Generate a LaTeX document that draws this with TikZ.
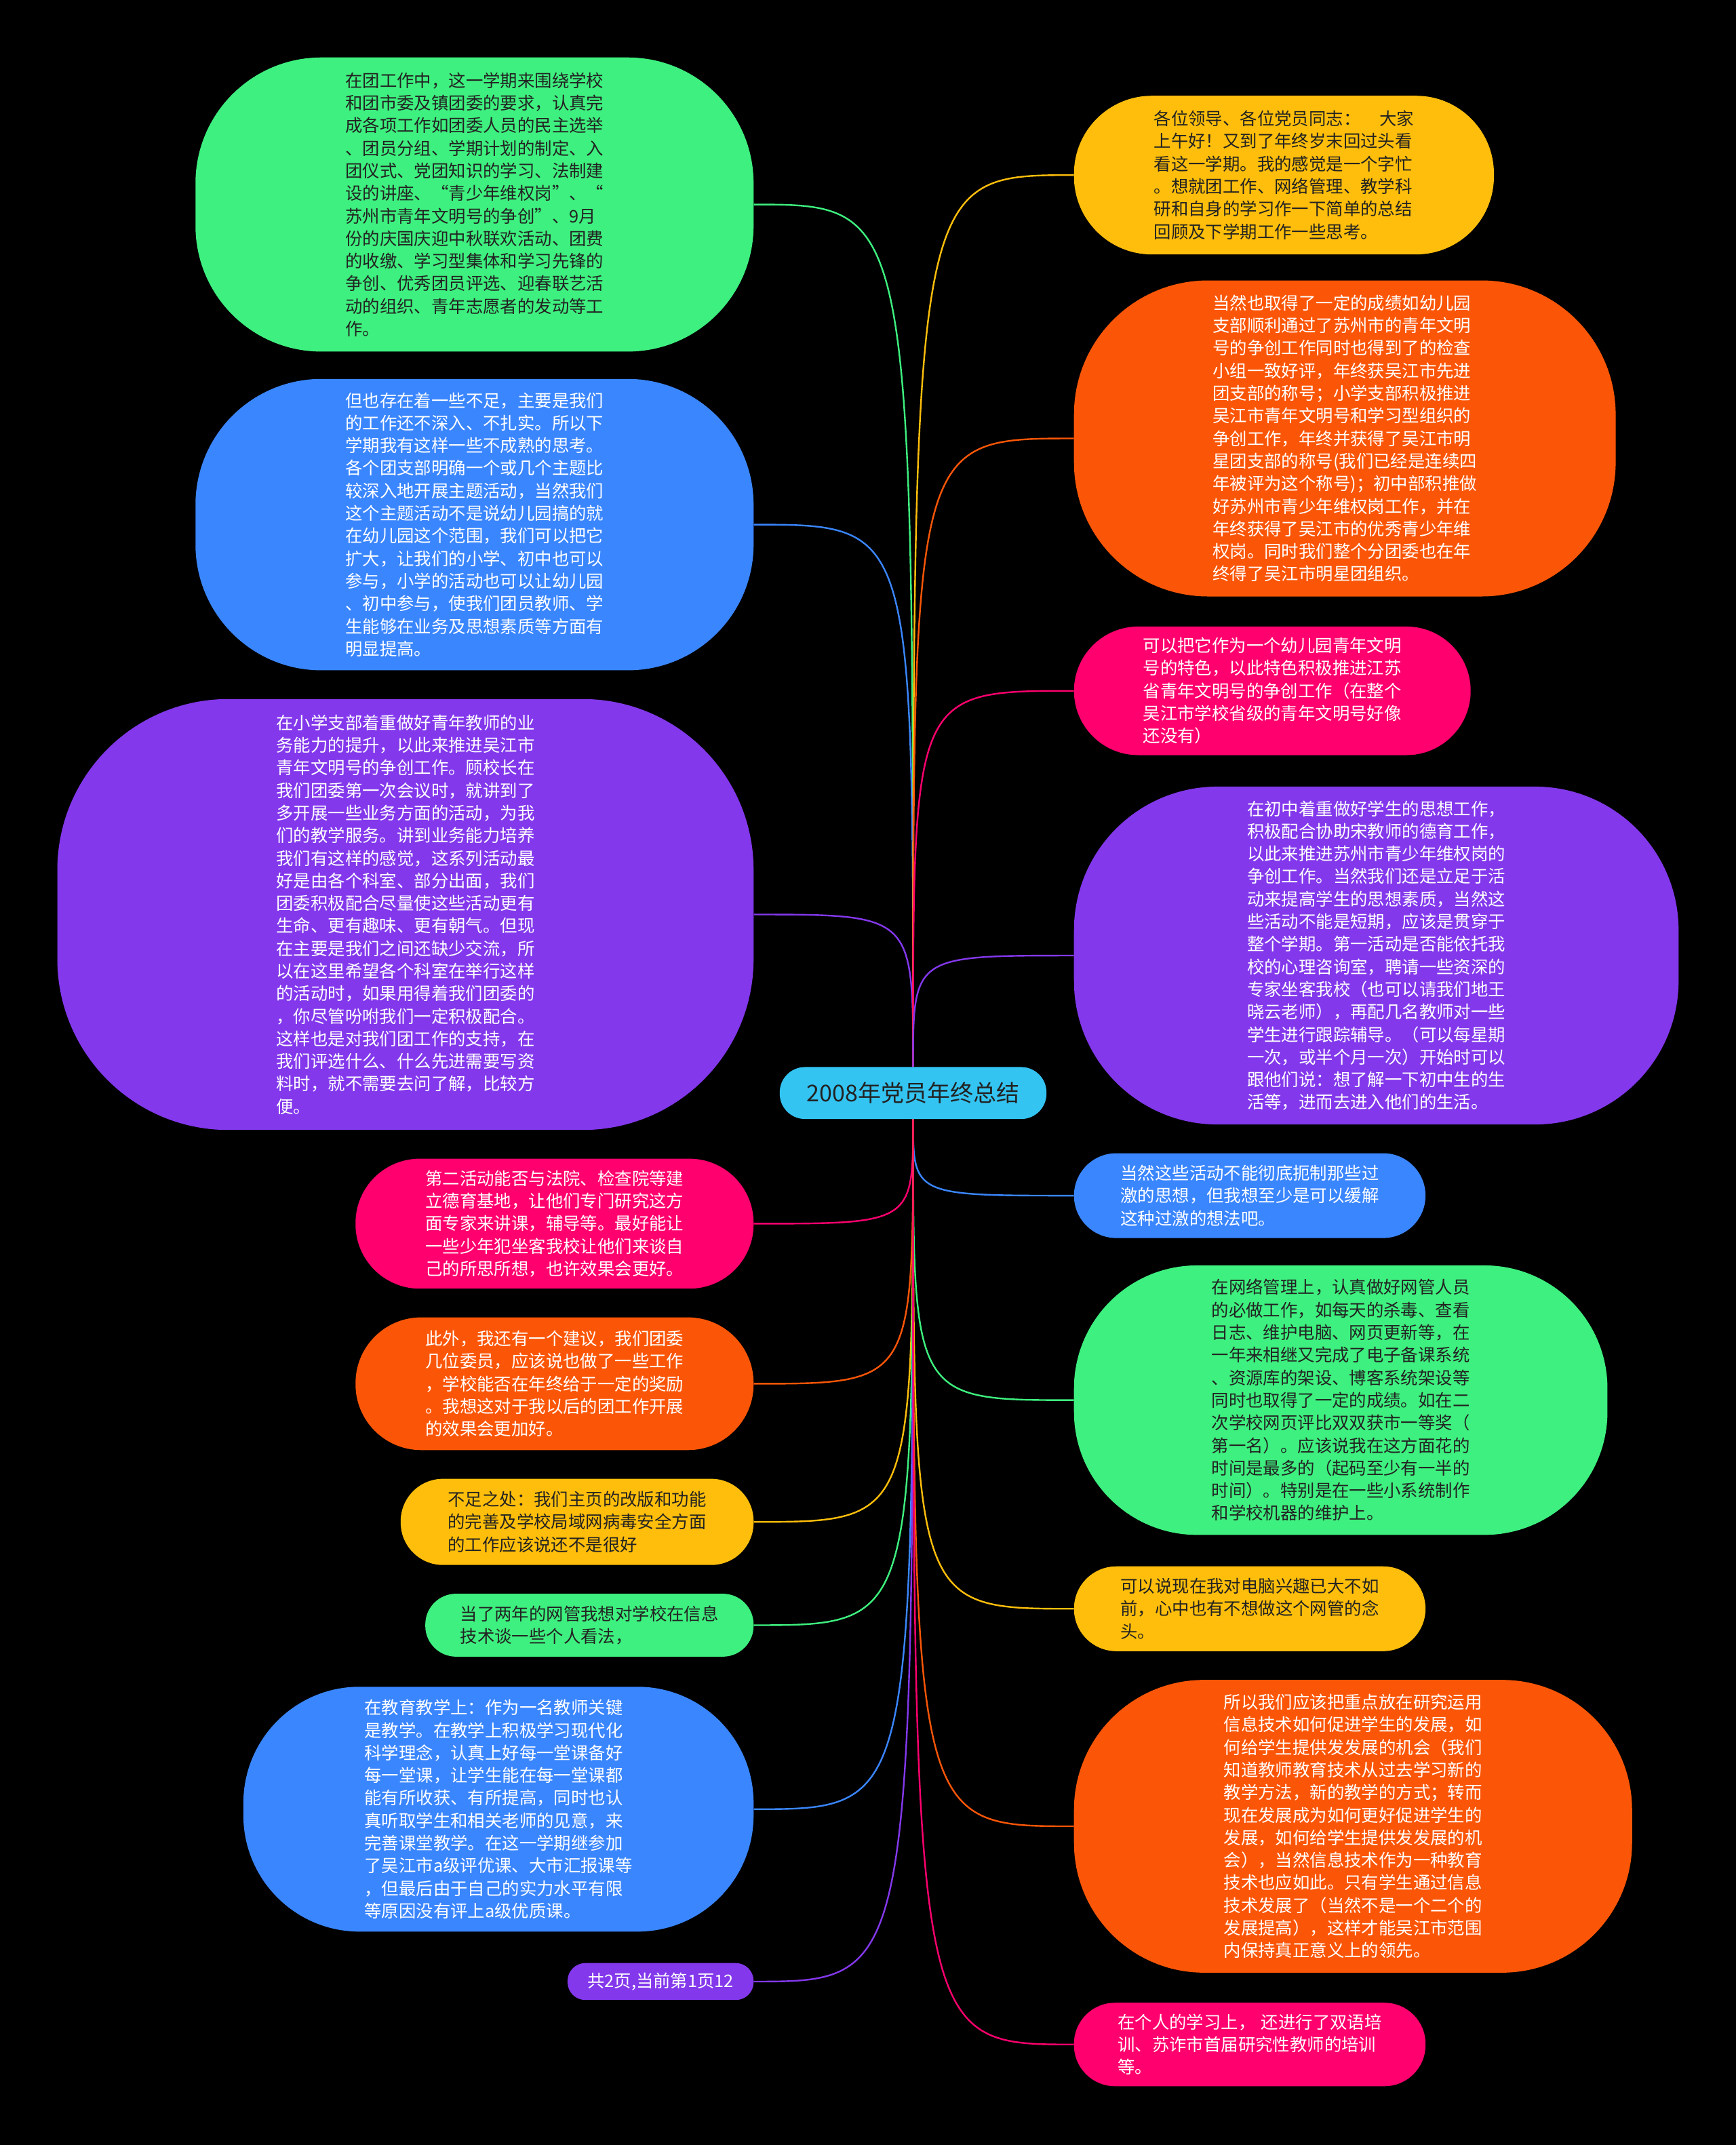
\documentclass[tikz,border=0pt]{standalone}
\usepackage{fontspec}
\setmainfont{Noto Sans CJK SC}
\usetikzlibrary{backgrounds}
\definecolor{cgreen}{HTML}{3EF07F}
\definecolor{cblue}{HTML}{3A86FF}
\definecolor{cpurple}{HTML}{8338EC}
\definecolor{cpink}{HTML}{FF006E}
\definecolor{corange}{HTML}{FB5607}
\definecolor{cyellow}{HTML}{FFBE0B}
\definecolor{ccyan}{HTML}{33C4F2}
\definecolor{cdark}{HTML}{222222}
\newdimen\U \U=2.0173pt
\newcommand\nodefnt{\fontsize{25.4pt}{33.3pt}\selectfont}
\newcommand\rootfnt{\fontsize{34pt}{40pt}\selectfont}
\tikzset{
  bx/.style={inner sep=0pt, align=left, font=\nodefnt},
  lbx/.style={bx, anchor=east},
  rbx/.style={bx, anchor=west},
  onwhite/.style={text=white},
  ondark/.style={text=cdark},
  conn/.style={line width=2.4pt}
}
\begin{document}
\begin{tikzpicture}[x=2.0173pt,y=-2.0173pt]
\useasboundingbox (0,0) rectangle (1269,1568);

% root
\node[inner sep=0pt, font=\rootfnt, text=cdark, fill=ccyan, minimum width=195\U, minimum height=38\U, rounded corners=18.5\U] (C) at (667.5,799) {2008年党员年终总结};

% left side
\node[lbx, ondark, fill=cgreen, minimum width=408\U, minimum height=215\U, rounded corners=92\U] (L1) at (551,149.5) {在团工作中，这一学期来围绕学校\\
和团市委及镇团委的要求，认真完\\
成各项工作如团委人员的民主选举\\
、团员分组、学期计划的制定、入\\
团仪式、党团知识的学习、法制建\\
设的讲座、“青少年维权岗”、“\\
苏州市青年文明号的争创”、9月\\
份的庆国庆迎中秋联欢活动、团费\\
的收缴、学习型集体和学习先锋的\\
争创、优秀团员评选、迎春联艺活\\
动的组织、青年志愿者的发动等工\\
作。};

\node[lbx, onwhite, fill=cblue, minimum width=408\U, minimum height=213\U, rounded corners=92\U] (L2) at (551,383.5) {但也存在着一些不足，主要是我们\\
的工作还不深入、不扎实。所以下\\
学期我有这样一些不成熟的思考。\\
各个团支部明确一个或几个主题比\\
较深入地开展主题活动，当然我们\\
这个主题活动不是说幼儿园搞的就\\
在幼儿园这个范围，我们可以把它\\
扩大，让我们的小学、初中也可以\\
参与，小学的活动也可以让幼儿园\\
、初中参与，使我们团员教师、学\\
生能够在业务及思想素质等方面有\\
明显提高。};

\node[lbx, onwhite, fill=cpurple, minimum width=509\U, minimum height=315\U, rounded corners=125\U] (L3) at (551,668.5) {在小学支部着重做好青年教师的业\\
务能力的提升，以此来推进吴江市\\
青年文明号的争创工作。顾校长在\\
我们团委第一次会议时，就讲到了\\
多开展一些业务方面的活动，为我\\
们的教学服务。讲到业务能力培养\\
我们有这样的感觉，这系列活动最\\
好是由各个科室、部分出面，我们\\
团委积极配合尽量使这些活动更有\\
生命、更有趣味、更有朝气。但现\\
在主要是我们之间还缺少交流，所\\
以在这里希望各个科室在举行这样\\
的活动时，如果用得着我们团委的\\
，你尽管吩咐我们一定积极配合。\\
这样也是对我们团工作的支持，在\\
我们评选什么、什么先进需要写资\\
料时，就不需要去问了解，比较方\\
便。};

\node[lbx, onwhite, fill=cpink, minimum width=291\U, minimum height=95\U, rounded corners=47\U] (L4) at (551,894.5) {第二活动能否与法院、检查院等建\\
立德育基地，让他们专门研究这方\\
面专家来讲课，辅导等。最好能让\\
一些少年犯坐客我校让他们来谈自\\
己的所思所想，也许效果会更好。};

\node[lbx, onwhite, fill=corange, minimum width=291\U, minimum height=97\U, rounded corners=48\U] (L5) at (551,1011.5) {此外，我还有一个建议，我们团委\\
几位委员，应该说也做了一些工作\\
，学校能否在年终给于一定的奖励\\
。我想这对于我以后的团工作开展\\
的效果会更加好。};

\node[lbx, ondark, fill=cyellow, minimum width=258\U, minimum height=63\U, rounded corners=31\U] (L6) at (551,1112.5) {不足之处：我们主页的改版和功能\\
的完善及学校局域网病毒安全方面\\
的工作应该说还不是很好};

\node[lbx, ondark, fill=cgreen, minimum width=240\U, minimum height=46\U, rounded corners=22.5\U] (L7) at (551,1188) {当了两年的网管我想对学校在信息\\
技术谈一些个人看法，};

\node[lbx, onwhite, fill=cblue, minimum width=373\U, minimum height=179\U, rounded corners=85\U] (L8) at (551,1322.5) {在教育教学上：作为一名教师关键\\
是教学。在教学上积极学习现代化\\
科学理念，认真上好每一堂课备好\\
每一堂课，让学生能在每一堂课都\\
能有所收获、有所提高，同时也认\\
真听取学生和相关老师的见意，来\\
完善课堂教学。在这一学期继参加\\
了吴江市a级评优课、大市汇报课等\\
，但最后由于自己的实力水平有限\\
等原因没有评上a级优质课。};

\node[lbx, onwhite, fill=cpurple, minimum width=136\U, minimum height=27\U, rounded corners=13\U] (L9) at (551,1448.5) {共2页,当前第1页12};

% right side
\node[rbx, ondark, fill=cyellow, minimum width=307\U, minimum height=116\U, rounded corners=57\U] (R1) at (785,128) {各位领导、各位党员同志：\hspace{1.1em}大家\\
上午好！又到了年终岁末回过头看\\
看这一学期。我的感觉是一个字忙\\
。想就团工作、网络管理、教学科\\
研和自身的学习作一下简单的总结\\
回顾及下学期工作一些思考。};

\node[rbx, onwhite, fill=corange, minimum width=396\U, minimum height=231\U, rounded corners=98\U] (R2) at (785,320.5) {当然也取得了一定的成绩如幼儿园\\
支部顺利通过了苏州市的青年文明\\
号的争创工作同时也得到了的检查\\
小组一致好评，年终获吴江市先进\\
团支部的称号；小学支部积极推进\\
吴江市青年文明号和学习型组织的\\
争创工作，年终并获得了吴江市明\\
星团支部的称号(我们已经是连续四\\
年被评为这个称号)；初中部积推做\\
好苏州市青少年维权岗工作，并在\\
年终获得了吴江市的优秀青少年维\\
权岗。同时我们整个分团委也在年\\
终得了吴江市明星团组织。};

\node[rbx, onwhite, fill=cpink, minimum width=290\U, minimum height=94\U, rounded corners=47\U] (R3) at (785,505) {可以把它作为一个幼儿园青年文明\\
号的特色，以此特色积极推进江苏\\
省青年文明号的争创工作（在整个\\
吴江市学校省级的青年文明号好像\\
还没有）};

\node[rbx, onwhite, fill=cpurple, minimum width=442\U, minimum height=247\U, rounded corners=105\U] (R4) at (785,698.5) {在初中着重做好学生的思想工作，\\
积极配合协助宋教师的德育工作，\\
以此来推进苏州市青少年维权岗的\\
争创工作。当然我们还是立足于活\\
动来提高学生的思想素质，当然这\\
些活动不能是短期，应该是贯穿于\\
整个学期。第一活动是否能依托我\\
校的心理咨询室，聘请一些资深的\\
专家坐客我校（也可以请我们地王\\
晓云老师），再配几名教师对一些\\
学生进行跟踪辅导。（可以每星期\\
一次，或半个月一次）开始时可以\\
跟他们说：想了解一下初中生的生\\
活等，进而去进入他们的生活。};

\node[rbx, onwhite, fill=cblue, minimum width=257\U, minimum height=62\U, rounded corners=31\U] (R5) at (785,874) {当然这些活动不能彻底扼制那些过\\
激的思想，但我想至少是可以缓解\\
这种过激的想法吧。};

\node[rbx, ondark, fill=cgreen, minimum width=390\U, minimum height=197\U, rounded corners=90\U] (R6) at (785,1023.5) {在网络管理上，认真做好网管人员\\
的必做工作，如每天的杀毒、查看\\
日志、维护电脑、网页更新等，在\\
一年来相继又完成了电子备课系统\\
、资源库的架设、博客系统架设等\\
同时也取得了一定的成绩。如在二\\
次学校网页评比双双获市一等奖（\\
第一名）。应该说我在这方面花的\\
时间是最多的（起码至少有一半的\\
时间）。特别是在一些小系统制作\\
和学校机器的维护上。};

\node[rbx, ondark, fill=cyellow, minimum width=257\U, minimum height=62\U, rounded corners=31\U] (R7) at (785,1176) {可以说现在我对电脑兴趣已大不如\\
前，心中也有不想做这个网管的念\\
头。};

\node[rbx, onwhite, fill=corange, minimum width=408\U, minimum height=214\U, rounded corners=95\U] (R8) at (785,1335) {所以我们应该把重点放在研究运用\\
信息技术如何促进学生的发展，如\\
何给学生提供发发展的机会（我们\\
知道教师教育技术从过去学习新的\\
教学方法，新的教学的方式；转而\\
现在发展成为如何更好促进学生的\\
发展，如何给学生提供发发展的机\\
会），当然信息技术作为一种教育\\
技术也应如此。只有学生通过信息\\
技术发展了（当然不是一个二个的\\
发展提高），这样才能吴江市范围\\
内保持真正意义上的领先。};

\node[rbx, onwhite, fill=cpink, minimum width=257\U, minimum height=61\U, rounded corners=30\U] (R9) at (785,1494.5) {在个人的学习上，\hspace{0.33em}还进行了双语培\\
训、苏诈市首届研究性教师的培训\\
等。};

\begin{pgfonlayer}{background}
\fill[black] (0,0) rectangle (1269,1568);
\draw[conn, cgreen]  (C.north) .. controls (C.north |- L1.east) .. (L1.east);
\draw[conn, cblue]   (C.north) .. controls (C.north |- L2.east) .. (L2.east);
\draw[conn, cpurple] (C.north) .. controls (C.north |- L3.east) .. (L3.east);
\draw[conn, cpink]   (C.south) .. controls (C.south |- L4.east) .. (L4.east);
\draw[conn, corange] (C.south) .. controls (C.south |- L5.east) .. (L5.east);
\draw[conn, cyellow] (C.south) .. controls (C.south |- L6.east) .. (L6.east);
\draw[conn, cgreen]  (C.south) .. controls (C.south |- L7.east) .. (L7.east);
\draw[conn, cblue]   (C.south) .. controls (C.south |- L8.east) .. (L8.east);
\draw[conn, cpurple] (C.south) .. controls (C.south |- L9.east) .. (L9.east);
\draw[conn, cyellow] (C.north) .. controls (C.north |- R1.west) .. (R1.west);
\draw[conn, corange] (C.north) .. controls (C.north |- R2.west) .. (R2.west);
\draw[conn, cpink]   (C.north) .. controls (C.north |- R3.west) .. (R3.west);
\draw[conn, cpurple] (C.north) .. controls (C.north |- R4.west) .. (R4.west);
\draw[conn, cblue]   (C.south) .. controls (C.south |- R5.west) .. (R5.west);
\draw[conn, cgreen]  (C.south) .. controls (C.south |- R6.west) .. (R6.west);
\draw[conn, cyellow] (C.south) .. controls (C.south |- R7.west) .. (R7.west);
\draw[conn, corange] (C.south) .. controls (C.south |- R8.west) .. (R8.west);
\draw[conn, cpink]   (C.south) .. controls (C.south |- R9.west) .. (R9.west);
\end{pgfonlayer}
\end{tikzpicture}
\end{document}
